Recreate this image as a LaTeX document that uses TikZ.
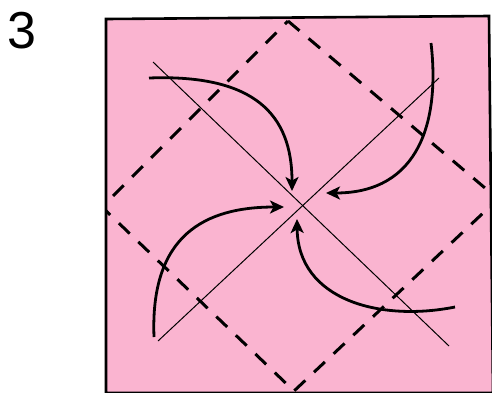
\documentclass[tikz,border=0pt]{standalone}
\usepackage{fontspec}
\setmainfont{Liberation Sans}
\usetikzlibrary{arrows.meta}
\definecolor{paper}{RGB}{250,180,208}
\tikzset{
  fold/.style={line width=3pt, dash pattern=on 15pt off 12pt},
  crease/.style={line width=1pt},
  movearrow/.style={line width=2.8pt, -{Stealth[length=14pt,width=13pt,inset=3.5pt]}},
}
\begin{document}
\begin{tikzpicture}[x=1pt,y=-1pt]
\useasboundingbox (0,0) rectangle (492,392);
% paper corners
\coordinate (p1) at (106,19);
\coordinate (p2) at (489,16);
\coordinate (p3) at (493,393);
\coordinate (p4) at (106,393);
\fill[paper] (p1) -- (p2) -- (p3) -- (p4) -- cycle;
% step number
\node[inner sep=0pt, font=\fontsize{52}{52}\selectfont] (num) at (22,31) {3};
% dashed diamond (clipped to the paper)
\coordinate (dt) at (288,21);
\coordinate (dr) at (498,199);
\coordinate (db) at (294,391);
\coordinate (dl) at (102,207);
\begin{scope}
\clip (p1) -- (p2) -- (p3) -- (p4) -- cycle;
\draw[fold] (dt) -- (dr) -- (db) -- (dl) -- cycle;
\end{scope}
% thin diagonal creases
\coordinate (c1a) at (153,62);
\coordinate (c1b) at (449,346);
\coordinate (c2a) at (439,78);
\coordinate (c2b) at (158,341);
\draw[crease] (c1a) -- (c1b);
\draw[crease] (c2a) -- (c2b);
% curved arrows
\coordinate (a1s) at (149,78);  \coordinate (a1e) at (292,191);
\coordinate (a2s) at (431,43);  \coordinate (a2e) at (326,193);
\coordinate (a3s) at (154,337); \coordinate (a3e) at (284,207);
\coordinate (a4s) at (455,307); \coordinate (a4e) at (297,219);
\draw[movearrow] (a1s) .. controls (255,74) and (292,115) .. (a1e);
\draw[movearrow] (a2s) .. controls (440,120) and (420,193) .. (a2e);
\draw[movearrow] (a3s) .. controls (150,235) and (205,207) .. (a3e);
\draw[movearrow] (a4s) .. controls (380,322) and (298,300) .. (a4e);
% paper border
\draw[line width=2.6pt] (p1) -- (p2) -- (p3) -- (p4) -- cycle;
\end{tikzpicture}
\end{document}
